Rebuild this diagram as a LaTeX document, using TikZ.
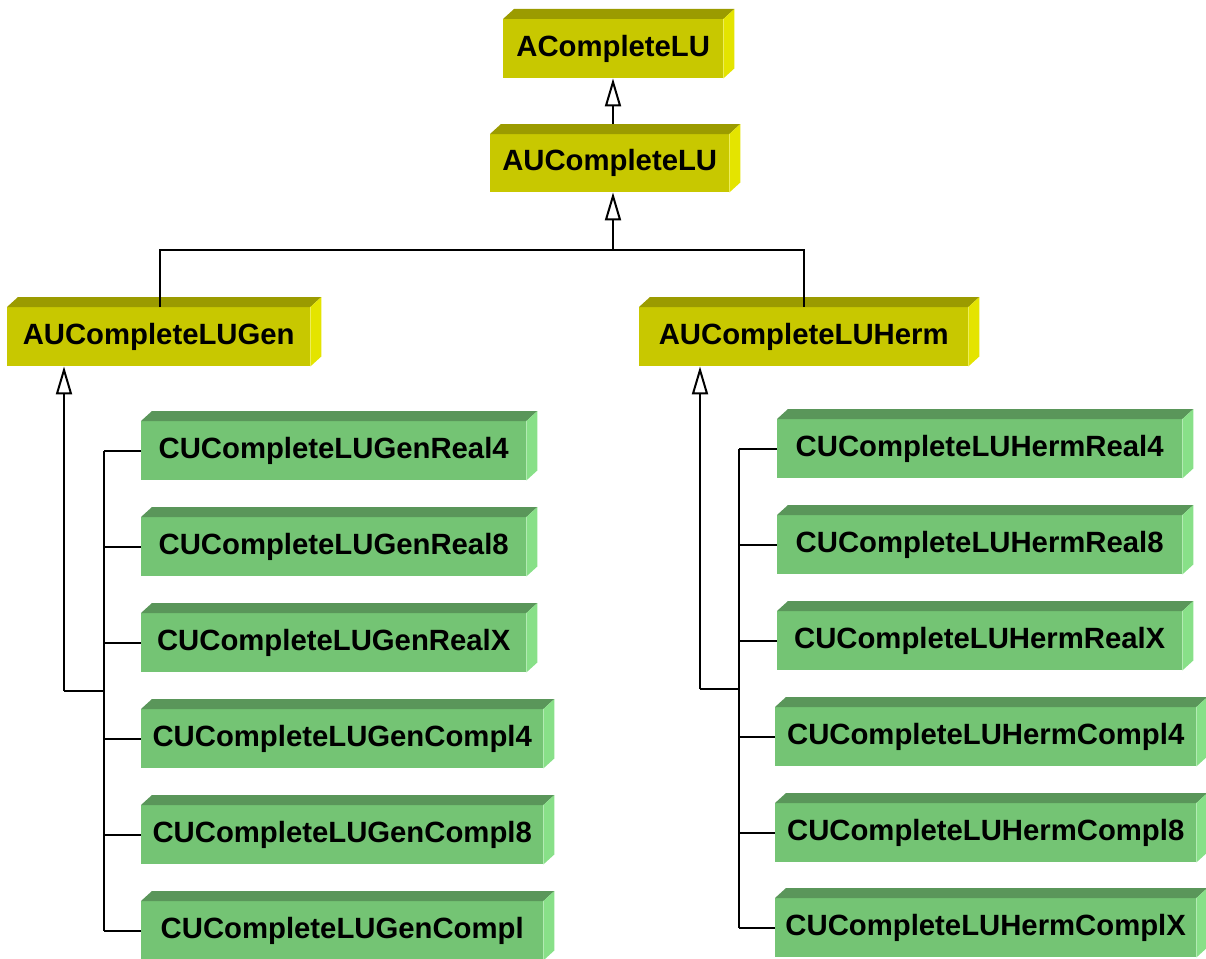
\documentclass[tikz,border=0pt]{standalone}
\usepackage{fontspec}
\setmainfont{Liberation Sans}
\usetikzlibrary{arrows.meta,calc}
\definecolor{yfront}{RGB}{200,200,0}
\definecolor{ytop}{RGB}{155,155,0}
\definecolor{yside}{RGB}{228,228,0}
\definecolor{gfront}{RGB}{116,196,116}
\definecolor{gtop}{RGB}{90,150,90}
\definecolor{gside}{RGB}{136,224,136}
\tikzset{
  cls/.style={rectangle, inner sep=0pt, anchor=north west, text=black,
    font=\fontsize{29.3pt}{32pt}\selectfont\bfseries},
  ybox/.style={cls, fill=yfront},
  gbox/.style={cls, fill=gfront},
  conn/.style={line width=2pt, black},
  inh/.style={conn, -{Triangle[open, length=28pt, width=16pt, fill=white]}}
}
\newcommand{\faces}[3]{%
  \fill[#2] (#1.north west) -- ++(11pt,10pt) -- ([shift={(11pt,10pt)}]#1.north east) -- (#1.north east) -- cycle;
  \fill[#3] (#1.north east) -- ++(11pt,10pt) -- ([shift={(11pt,10pt)}]#1.south east) -- (#1.south east) -- cycle;
}
\begin{document}
\begin{tikzpicture}[x=1pt,y=-1pt]
\useasboundingbox (0,0) rectangle (1206,958);
% yellow boxes
\node[ybox, minimum width=220pt, minimum height=59pt] (a) at (503,19) {ACompleteLU};
\node[ybox, minimum width=239pt, minimum height=58pt] (b) at (490,134) {AUCompleteLU};
\node[ybox, minimum width=303pt, minimum height=59pt] (gen) at (7,307) {AUCompleteLUGen};
\node[ybox, minimum width=329pt, minimum height=59pt] (herm) at (639,307) {AUCompleteLUHerm};
% green boxes, left
\node[gbox, minimum width=385pt, minimum height=59pt] (g1) at (141,421) {CUCompleteLUGenReal4};
\node[gbox, minimum width=385pt, minimum height=59pt] (g2) at (141,517) {CUCompleteLUGenReal8};
\node[gbox, minimum width=385pt, minimum height=59pt] (g3) at (141,613) {CUCompleteLUGenRealX};
\node[gbox, minimum width=402pt, minimum height=59pt] (g4) at (141,709) {CUCompleteLUGenCompl4};
\node[gbox, minimum width=402pt, minimum height=59pt] (g5) at (141,805) {CUCompleteLUGenCompl8};
\node[gbox, minimum width=402pt, minimum height=59pt] (g6) at (141,901) {CUCompleteLUGenCompl};
% green boxes, right
\node[gbox, minimum width=405pt, minimum height=59pt] (h1) at (777,419) {CUCompleteLUHermReal4};
\node[gbox, minimum width=405pt, minimum height=59pt] (h2) at (777,515) {CUCompleteLUHermReal8};
\node[gbox, minimum width=405pt, minimum height=59pt] (h3) at (777,611) {CUCompleteLUHermRealX};
\node[gbox, minimum width=421pt, minimum height=59pt] (h4) at (775,707) {CUCompleteLUHermCompl4};
\node[gbox, minimum width=421pt, minimum height=59pt] (h5) at (775,803) {CUCompleteLUHermCompl8};
\node[gbox, minimum width=421pt, minimum height=59pt] (h6) at (775,898) {CUCompleteLUHermComplX};
% 3D faces
\foreach \n in {a,b,gen,herm} {\faces{\n}{ytop}{yside}}
\foreach \n in {g1,g2,g3,g4,g5,g6,h1,h2,h3,h4,h5,h6} {\faces{\n}{gtop}{gside}}
% connectors
\coordinate (j0) at (613,124);
\draw[inh] (j0) -- (j0 |- a.south);
\coordinate (j1) at (613,250);
\draw[inh] (j1) -- (j1 |- b.south);
\draw[conn] (160,307) |- (j1) -| (804,307);
% left tree
\coordinate (jl) at (64,691);
\coordinate (sl) at (104,691);
\draw[inh] (jl) -- (jl |- gen.south);
\draw[conn] (jl) -- (sl);
\draw[conn] (g1.west -| sl) -- (g6.west -| sl);
\foreach \n in {g1,g2,g3,g4,g5,g6} {\draw[conn] (\n.west -| sl) -- (\n.west);}
% right tree
\coordinate (jr) at (700,689);
\coordinate (sr) at (739,689);
\draw[inh] (jr) -- (jr |- herm.south);
\draw[conn] (jr) -- (sr);
\draw[conn] (h1.west -| sr) -- (h6.west -| sr);
\foreach \n in {h1,h2,h3,h4,h5,h6} {\draw[conn] (\n.west -| sr) -- (\n.west);}
\end{tikzpicture}
\end{document}
